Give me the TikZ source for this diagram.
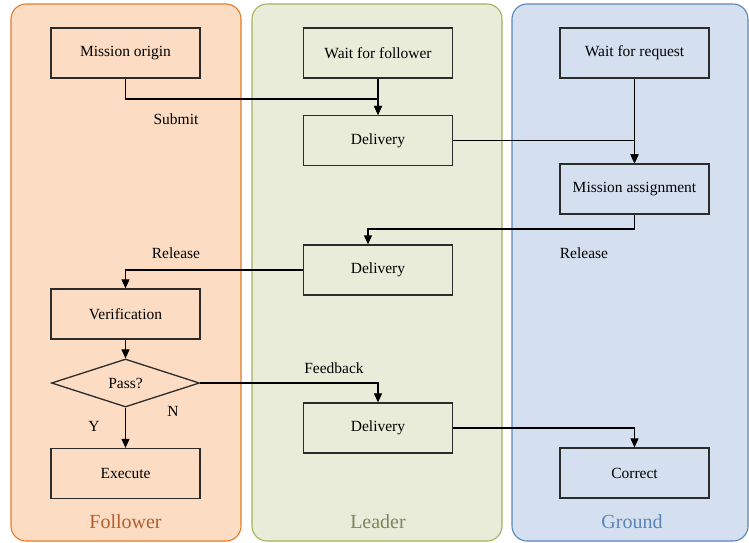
\documentclass[tikz,border=0pt]{standalone}
\usepackage{fontspec}
\setmainfont{Liberation Serif}
\usetikzlibrary{arrows.meta,shapes.geometric}
\definecolor{folfill}{HTML}{FCDCC3}
\definecolor{folline}{HTML}{E27A2C}
\definecolor{foltext}{HTML}{B0602E}
\definecolor{leafill}{HTML}{E9ECD8}
\definecolor{lealine}{HTML}{A4B05E}
\definecolor{leatext}{HTML}{7E845E}
\definecolor{grofill}{HTML}{D4E0EF}
\definecolor{groline}{HTML}{5B84B6}
\definecolor{grotext}{HTML}{5B84B6}
\definecolor{boxline}{HTML}{2B2B2B}
\begin{document}
\begin{tikzpicture}[x=1pt,y=-1pt,
  lane/.style={line width=1.1pt,rounded corners=15pt},
  box/.style={draw=boxline,line width=1.3pt,minimum width=149pt,minimum height=50pt,inner sep=0pt,font=\fontsize{15.5}{18}\selectfont},
  dia/.style={draw=boxline,line width=1.3pt,shape=diamond,aspect=3.08,minimum width=148pt,minimum height=48pt,inner sep=0pt,font=\fontsize{15.5}{18}\selectfont},
  lbl/.style={font=\fontsize{15.5}{18}\selectfont,inner sep=0pt},
  title/.style={font=\fontsize{20}{24}\selectfont,inner sep=0pt},
  conn/.style={line width=1.1pt,-{Triangle[length=9pt,width=8pt]}}]
\useasboundingbox (0,0) rectangle (749,542);
% lanes
\draw[lane,fill=folfill,draw=folline] (11,4) rectangle (241,541);
\draw[lane,fill=leafill,draw=lealine] (252,4) rectangle (502,541);
\draw[lane,fill=grofill,draw=groline] (512,4) rectangle (748,541);
\node[title,text=foltext] (tf) at (125.5,522) {Follower};
\node[title,text=leatext] (tl) at (378,522) {Leader};
\node[title,text=grotext] (tg) at (632,522) {Ground};
% nodes
\node[box] (mo) at (125.5,53) {Mission origin};
\node[box] (wf) at (378,53) {Wait for follower};
\node[box] (wr) at (634.5,53) {Wait for request};
\node[box] (d1) at (378,140.5) {Delivery};
\node[box] (ma) at (634.5,189) {Mission assignment};
\node[box] (d2) at (378,270) {Delivery};
\node[box] (ve) at (125.5,314) {Verification};
\node[dia] (pa) at (125.5,383) {Pass?};
\node[box] (ex) at (125.5,473.5) {Execute};
\node[box] (d3) at (378,428) {Delivery};
\node[box] (co) at (634.5,473) {Correct};
% labels
\node[lbl] (lsub) at (176,119) {Submit};
\node[lbl] (lrel1) at (176,253) {Release};
\node[lbl] (lrel2) at (584,253) {Release};
\node[lbl] (lfb) at (334,368) {Feedback};
\node[lbl] (ly) at (94,426) {Y};
\node[lbl] (ln) at (173,411) {N};
% connectors
\draw[conn] (mo.south) -- (mo.south |- 0,99) -| (d1.north);
\draw[conn] (wf.south) -- (d1.north);
\draw[conn] (d1.east) -| (ma.north);
\draw[conn] (wr.south) -- (ma.north);
\draw[conn] (ma.south) -- (ma.south |- 0,229) -| ([xshift=-10pt]d2.north);
\draw[conn] (d2.west) -| (ve.north);
\draw[conn] (ve.south) -- (pa.north);
\draw[conn] (pa.east) -| (d3.north);
\draw[conn] (pa.south) -- (ex.north);
\draw[conn] (d3.east) -| (co.north);
\end{tikzpicture}
\end{document}
